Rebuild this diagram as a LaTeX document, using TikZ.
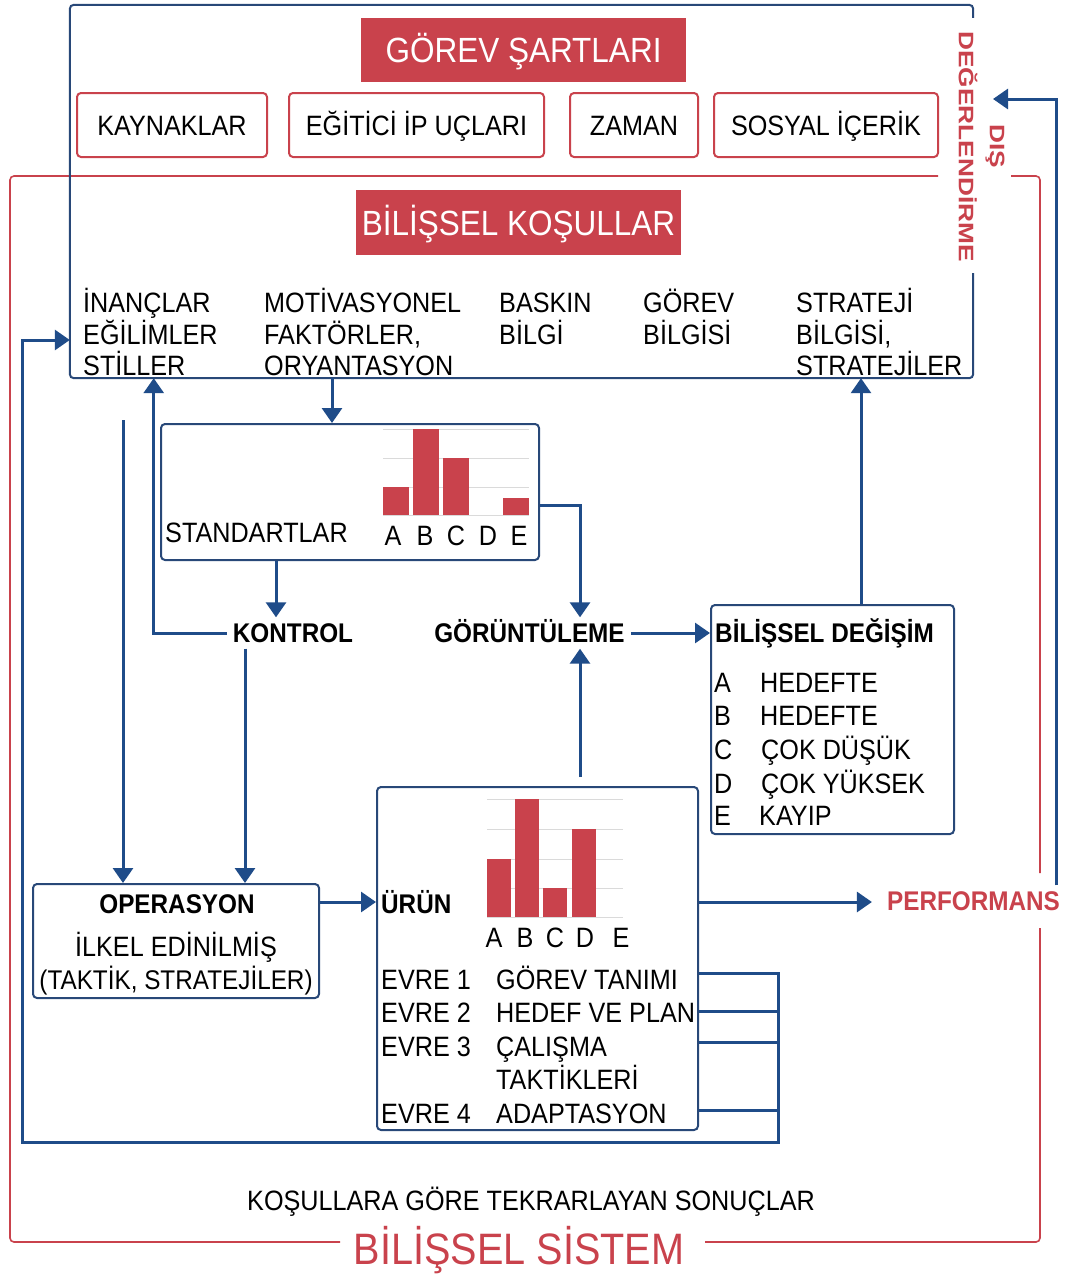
\documentclass[tikz,border=0pt]{standalone}
\usepackage{fontspec}
\setmainfont{Liberation Sans}[FakeStretch=0.9]
\newfontfamily\widefont{Liberation Sans}[FakeStretch=1.25]
\usetikzlibrary{arrows.meta,calc}
\definecolor{myred}{RGB}{201,66,76}
\definecolor{myblue}{RGB}{31,76,137}
\definecolor{boxblue}{RGB}{40,72,120}
\definecolor{gridgray}{RGB}{218,218,218}
\begin{document}
\begin{tikzpicture}[x=1pt,y=-1pt,
  txt/.style={font=\fontsize{28}{32}\selectfont, inner sep=0pt, anchor=base west},
  ctxt/.style={font=\fontsize{28}{32}\selectfont, inner sep=0pt, anchor=base},
  btxt/.style={font=\bfseries\fontsize{27}{32}\selectfont, inner sep=6pt, text height=19pt, text depth=0pt},
  conn/.style={draw=myblue, line width=3pt, -{Triangle[length=15pt,width=20pt]}},
  plain/.style={draw=myblue, line width=3pt},
  bluebox/.style={draw=boxblue, line width=2pt, rounded corners=4pt, inner sep=0pt},
  redbox/.style={draw=myred, line width=2pt, rounded corners=4pt, inner sep=0pt,
     font=\fontsize{28}{32}\selectfont, text height=20pt, text depth=0pt},
  redtitle/.style={fill=myred, text=white, inner sep=0pt,
     font=\fontsize{35}{40}\selectfont, text height=25pt, text depth=0pt},
  redframe/.style={draw=myred, line width=1.6pt, rounded corners=4pt},
  bar/.style={fill=myred},
  grid/.style={draw=gridgray, line width=1pt},
]
\useasboundingbox (0,0) rectangle (1079,1274);
\fill[white] (0,0) rectangle (1079,1274);

% ---------- outer red frame (BILISSEL SISTEM) ----------
\draw[redframe] (938,176) -- (10,176) -- (10,1242) -- (340,1242);
\draw[redframe] (705,1242) -- (1040,1242) -- (1040,928);
\draw[redframe] (1040,873) -- (1040,176) -- (1011,176);

% ---------- cognitive conditions frame ----------
\node[minimum width=903, minimum height=373, inner sep=0pt] (kosul) at (521.5,191.5) {};
\draw[draw=boxblue, line width=2pt, rounded corners=4pt]
  ($(kosul.north east)+(0,13)$) -- (kosul.north east) -- (kosul.north west)
  -- (kosul.south west) -- (kosul.south east) -- ($(kosul.south east)+(0,-105)$);

% titles
\node[redtitle, minimum width=325, minimum height=64] (gorev) at (523.5,50) {GÖREV ŞARTLARI};
\node[redtitle, minimum width=325, minimum height=65] (kosullar) at (518.5,222.5) {BİLİŞSEL KOŞULLAR};

% task condition boxes
\node[redbox, minimum width=190, minimum height=64] (kaynak) at (172,125) {KAYNAKLAR};
\node[redbox, minimum width=255, minimum height=64] (egitici) at (416.5,125) {EĞİTİCİ İP UÇLARI};
\node[redbox, minimum width=128, minimum height=64] (zaman) at (634,125) {ZAMAN};
\node[redbox, minimum width=224, minimum height=64] (sosyal) at (826,125) {SOSYAL İÇERİK};

% external evaluation label
\node[rotate=-90, text=myred, inner sep=0pt, align=center,
      font=\widefont\bfseries\fontsize{21}{31}\selectfont] (dis) at (981.5,146.5) {DIŞ\\DEĞERLENDİRME};

% columns
\node[txt] (c1a) at (83,312) {İNANÇLAR};
\node[txt] (c1b) at (83,344) {EĞİLİMLER};
\node[txt] (c1c) at (83,375) {STİLLER};
\node[txt] (c2a) at (264,312) {MOTİVASYONEL};
\node[txt] (c2b) at (264,344) {FAKTÖRLER,};
\node[txt] (c2c) at (264,375) {ORYANTASYON};
\node[txt] (c3a) at (499,312) {BASKIN};
\node[txt] (c3b) at (499,344) {BİLGİ};
\node[txt] (c4a) at (643,312) {GÖREV};
\node[txt] (c4b) at (643,344) {BİLGİSİ};
\node[txt] (c5a) at (796,312) {STRATEJİ};
\node[txt] (c5b) at (796,344) {BİLGİSİ,};
\node[txt] (c5c) at (796,375) {STRATEJİLER};

% ---------- STANDARTLAR ----------
\node[bluebox, minimum width=378, minimum height=136] (std) at (350,492) {};
\node[txt] (stdlbl) at (165,542) {STANDARTLAR};
\draw[grid] (383,429) -- (529,429);
\draw[grid] (383,458) -- (529,458);
\draw[grid] (383,487) -- (529,487);
\draw[grid] (383,515) -- (529,515);
\fill[bar] (383,487) rectangle (409,515);
\fill[bar] (413,429) rectangle (439,515);
\fill[bar] (443,458) rectangle (469,515);
\fill[bar] (503,498) rectangle (529,515);
\node[ctxt] (sA) at (393,545) {A};
\node[ctxt] (sB) at (425,545) {B};
\node[ctxt] (sC) at (456,545) {C};
\node[ctxt] (sD) at (488,545) {D};
\node[ctxt] (sE) at (519,545) {E};

% ---------- middle labels ----------
\node[btxt] (kontrol) at (293,633) {KONTROL};
\node[btxt] (gorunt) at (529.5,633) {GÖRÜNTÜLEME};

% ---------- BILISSEL DEGISIM ----------
\node[bluebox, minimum width=243, minimum height=229] (degisim) at (832.5,719.5) {};
\node[font=\bfseries\fontsize{27}{32}\selectfont, inner sep=0pt, anchor=base west] (degt) at (715,642) {BİLİŞSEL DEĞİŞİM};
\node[txt] (dA) at (714,692) {A};
\node[txt] (dB) at (714,725) {B};
\node[txt] (dC) at (714,759) {C};
\node[txt] (dD) at (714,793) {D};
\node[txt] (dE) at (714,825) {E};
\node[txt] (dA2) at (760,692) {HEDEFTE};
\node[txt] (dB2) at (760,725) {HEDEFTE};
\node[txt] (dC2) at (761,759) {ÇOK DÜŞÜK};
\node[txt] (dD2) at (761,793) {ÇOK YÜKSEK};
\node[txt] (dE2) at (759,825) {KAYIP};

% ---------- OPERASYON ----------
\node[bluebox, minimum width=286, minimum height=114] (oper) at (176,941) {};
\node[font=\bfseries\fontsize{27}{32}\selectfont, inner sep=0pt, anchor=base] (opt) at (177,913) {OPERASYON};
\node[ctxt] (op1) at (176,956) {İLKEL EDİNİLMİŞ};
\node[ctxt, font=\fontsize{27}{32}\selectfont] (op2) at (176,989) {(TAKTİK, STRATEJİLER)};

% ---------- URUN ----------
\node[bluebox, minimum width=321, minimum height=343] (urun) at (537.5,958.5) {};
\node[font=\bfseries\fontsize{27}{32}\selectfont, inner sep=0pt, anchor=base west] (urunt) at (381,913) {ÜRÜN};
\draw[grid] (487,799) -- (623,799);
\draw[grid] (487,829) -- (623,829);
\draw[grid] (487,859) -- (623,859);
\draw[grid] (487,888) -- (623,888);
\draw[grid] (487,917) -- (623,917);
\fill[bar] (487,859) rectangle (511,917);
\fill[bar] (515,799) rectangle (539,917);
\fill[bar] (543,888) rectangle (567,917);
\fill[bar] (572,829) rectangle (596,917);
\node[ctxt] (uA) at (494,947) {A};
\node[ctxt] (uB) at (525,947) {B};
\node[ctxt] (uC) at (555,947) {C};
\node[ctxt] (uD) at (585,947) {D};
\node[ctxt] (uE) at (621,947) {E};
\node[txt] (e1) at (381,989) {EVRE 1};
\node[txt] (e2) at (381,1022) {EVRE 2};
\node[txt] (e3) at (381,1056) {EVRE 3};
\node[txt] (e4) at (381,1123) {EVRE 4};
\node[txt] (e1t) at (496,989) {GÖREV TANIMI};
\node[txt] (e2t) at (496,1022) {HEDEF VE PLAN};
\node[txt] (e3t) at (496,1056) {ÇALIŞMA};
\node[txt] (e3u) at (496,1089) {TAKTİKLERİ};
\node[txt] (e4t) at (496,1123) {ADAPTASYON};

% ---------- PERFORMANS ----------
\node[btxt, text=myred, inner xsep=15pt] (perf) at (973.5,901) {PERFORMANS};

% ---------- bottom labels ----------
\node[ctxt] (tekrar) at (531,1210) {KOŞULLARA GÖRE TEKRARLAYAN SONUÇLAR};
\node[font=\fontsize{44}{48}\selectfont, text=myred, inner sep=0pt, anchor=base] (sistem) at (519,1264) {BİLİŞSEL SİSTEM};

% ---------- connectors ----------
\coordinate (freetop) at (123,420);
\coordinate (distip) at (993,99);
\coordinate (loopcorner) at (778,1142);
\coordinate (looptop) at (22,340);

\draw[conn] ([xshift=-18pt]std.north |- kosul.south) -- ([xshift=-18pt]std.north);
\draw[conn] ([xshift=-74pt]std.south) -- ([xshift=-74pt]std.south |- kontrol.north);
\draw[conn] (kontrol.west) -| ([xshift=-73pt]kontrol.west |- kosul.south);
\draw[conn] ([xshift=-48pt]kontrol.south) -- ([xshift=-48pt]kontrol.south |- oper.north);
\draw[conn] (freetop) -- (freetop |- oper.north);
\draw[conn] ([yshift=-13pt]std.east) -| ([xshift=50.5pt]gorunt.north);
\draw[conn, shorten <=9pt] ([xshift=50.5pt]gorunt.south |- urun.north) -- ([xshift=50.5pt]gorunt.south);
\draw[conn] (gorunt.east) -- (gorunt.east -| degisim.west);
\draw[conn] ([xshift=28.5pt]degisim.north) -- ([xshift=28.5pt]degisim.north |- kosul.south);
\draw[conn] ([yshift=39pt]oper.east) -- ([yshift=39pt]oper.east -| urun.west);
\draw[conn] ([yshift=56.5pt]urun.east) -- ([yshift=56.5pt]urun.east -| perf.west);
\draw[conn] ([xshift=82.5pt]perf.north) |- (distip);

% feedback loop from phases
\draw[conn] ([yshift=-14.5pt]urun.east) -| (loopcorner) -| (looptop) -- (looptop -| kosul.west);
\draw[plain] ([yshift=-52.5pt]urun.east) -- ([yshift=-52.5pt]urun.east -| loopcorner);
\draw[plain] ([yshift=-83.5pt]urun.east) -- ([yshift=-83.5pt]urun.east -| loopcorner);
\draw[plain] ([yshift=-151.5pt]urun.east) -- ([yshift=-151.5pt]urun.east -| loopcorner);
\end{tikzpicture}
\end{document}
